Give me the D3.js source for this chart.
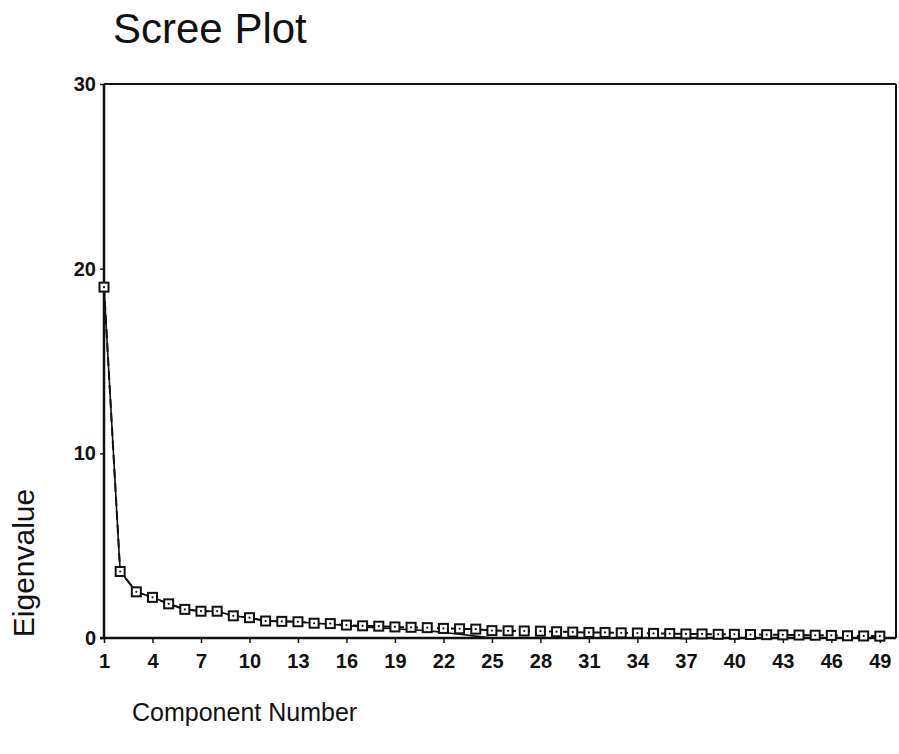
<!DOCTYPE html>
<html><head><meta charset="utf-8">
<script src="https://cdn.jsdelivr.net/npm/d3@7"></script>
<style>body{margin:0;background:#fff}svg{display:block}</style>
</head><body>
<svg id="c" width="899" height="754"></svg>
<script>
const components = d3.range(1, 50);
const eigenvalues = [19.0,3.6,2.5,2.2,1.85,1.55,1.45,1.45,1.2,1.1,0.92,0.9,0.88,0.8,0.78,0.7,0.66,0.64,0.6,0.58,0.56,0.52,0.5,0.48,0.4,0.39,0.38,0.37,0.34,0.32,0.3,0.3,0.28,0.27,0.25,0.24,0.22,0.22,0.2,0.2,0.19,0.18,0.17,0.16,0.15,0.14,0.12,0.11,0.1];
const solidValues = [19.0,3.6,2.5,2.2,1.85,1.55,1.45,1.45,1.2,1.1,0.92,0.9,0.88,0.8,0.75,0.68,0.6,0.55,0.5,0.45,0.4,0.3,0.2,0.1,0.0,0,0,0,0,0,0,0,0,0,0,0,0,0,0,0,0,0,0,0,0,0,0,0,0];
const xTicks = d3.range(1, 50, 3);
const yTicks = [0, 10, 20, 30];

const svg = d3.select("#c");
const x = d3.scaleLinear().domain([1, 50]).range([104, 896]);
const y = d3.scaleLinear().domain([0, 30]).range([638, 84]);
const ink = "#111";
const font = "'Liberation Sans', Arial, sans-serif";

// frame
svg.append("line").attr("x1", x(1)).attr("x2", x(50)).attr("y1", y(30)).attr("y2", y(30)).attr("stroke", ink).attr("stroke-width", 2);
svg.append("line").attr("x1", x(50)).attr("x2", x(50)).attr("y1", y(30)).attr("y2", y(0)).attr("stroke", ink).attr("stroke-width", 2);

// axes
const xAxis = d3.axisBottom(x).tickValues(xTicks).tickSize(5).tickSizeOuter(0).tickPadding(11);
const gx = svg.append("g").attr("transform", `translate(0,${y(0)})`).call(xAxis);
gx.select(".domain").attr("stroke", ink).attr("stroke-width", 2.5).attr("d", `M${x(1)-4},0H${x(50)}`);
gx.selectAll(".tick line").attr("stroke", ink).attr("stroke-width", 1.5);
gx.selectAll(".tick text").attr("font-family", font).attr("font-size", 20).attr("fill", ink).attr("font-weight", "bold");

const yAxis = d3.axisLeft(y).tickValues(yTicks).tickSize(4).tickSizeOuter(0).tickPadding(4);
const gy = svg.append("g").attr("transform", `translate(${x(1)},0)`).call(yAxis);
gy.select(".domain").attr("stroke", ink).attr("stroke-width", 2.5).attr("d", `M0,${y(30)}V${y(0)}`);
gy.selectAll(".tick line").attr("stroke", ink).attr("stroke-width", 1.5);
gy.selectAll(".tick text").attr("font-family", font).attr("font-size", 20).attr("fill", ink).attr("font-weight", "bold");

// solid series line
const line = d3.line().x((d, i) => x(components[i])).y(d => y(d));
svg.append("path").datum(solidValues).attr("d", line).attr("fill", "none").attr("stroke", ink).attr("stroke-width", 1.6);

// dashed series with squares
svg.append("path").datum(eigenvalues).attr("d", line).attr("fill", "none").attr("stroke", ink).attr("stroke-width", 2).attr("stroke-dasharray", "9,5");
const pts = svg.append("g");
pts.selectAll("rect").data(eigenvalues).join("rect")
  .attr("x", (d, i) => x(components[i]) - 4.5).attr("y", d => y(d) - 4.5)
  .attr("width", 9).attr("height", 9).attr("fill", "#fff").attr("stroke", ink).attr("stroke-width", 2);
pts.selectAll("circle").data(eigenvalues).join("circle")
  .attr("cx", (d, i) => x(components[i])).attr("cy", d => y(d)).attr("r", 1.1).attr("fill", ink);

// titles
svg.append("text").attr("x", 113).attr("y", 43).attr("font-family", font).attr("font-size", 42).attr("fill", ink).text("Scree Plot");
svg.append("text").attr("transform", "translate(34,563) rotate(-90)").attr("text-anchor", "middle").attr("font-family", font).attr("font-size", 30).attr("fill", ink).text("Eigenvalue");
svg.append("text").attr("x", 132).attr("y", 721).attr("font-family", font).attr("font-size", 25).attr("fill", ink).text("Component Number");
</script>
</body></html>
